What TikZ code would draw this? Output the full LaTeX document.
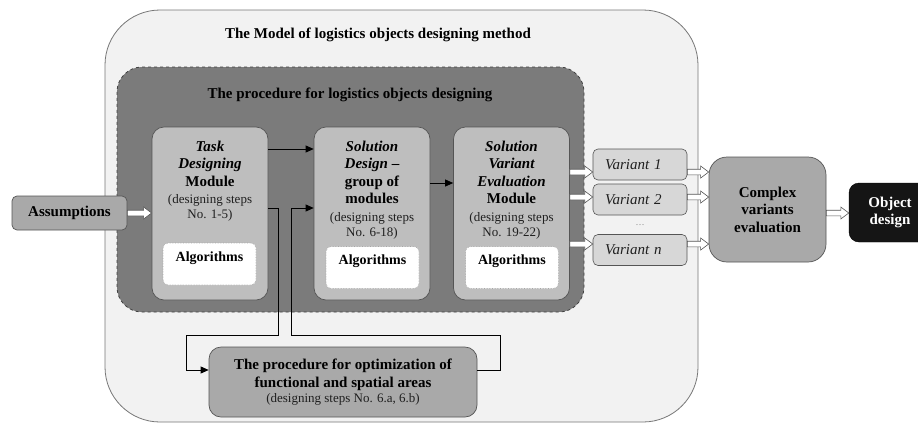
\documentclass[tikz,border=0pt]{standalone}
\usepackage{fontspec}
\setmainfont{Liberation Serif}
\usetikzlibrary{arrows.meta,calc}

\definecolor{outerfill}{HTML}{F2F2F2}
\definecolor{darkfill}{HTML}{7B7B7B}
\definecolor{modfill}{HTML}{BEBEBE}
\definecolor{midfill}{HTML}{A9A9A9}
\definecolor{varfill}{HTML}{D7D7D7}
\definecolor{objfill}{HTML}{151515}
\definecolor{edge}{HTML}{555555}
\definecolor{softedge}{HTML}{777777}

\newcommand\bfont{\fontsize{15}{17.5}\selectfont\bfseries}
\newcommand\rfont{\fontsize{13}{15}\selectfont\mdseries\color{black!88}}

% white block arrow with a grey outline between two points on the same level
\newcommand\hollowarrow[2]{%
  \draw[hollow] let \p1=(#1), \p2=(#2) in
    (\x1,\y1+2.8pt) -- (\x2-8pt,\y1+2.8pt) -- (\x2-8pt,\y1+6pt) -- (\x2,\y1)
    -- (\x2-8pt,\y1-6pt) -- (\x2-8pt,\y1-2.8pt) -- (\x1,\y1-2.8pt) -- cycle;}

\tikzset{
  outerbox/.style={draw=softedge, fill=outerfill, line width=0.8pt, rounded corners=55pt},
  procbox/.style={draw=black!75, fill=darkfill, dashed, line width=0.8pt, rounded corners=25pt},
  modbox/.style={draw=edge, fill=modfill, line width=0.7pt, rounded corners=12pt,
    minimum width=116pt, minimum height=173pt, inner sep=0pt},
  modtext/.style={font=\bfont, align=center, inner sep=0pt, anchor=north},
  algbox/.style={draw=gray!70, densely dotted, fill=white, line width=0.6pt, rounded corners=5pt,
    minimum width=93pt, minimum height=42pt, inner sep=0pt},
  algtext/.style={font=\fontsize{14}{16}\selectfont\bfseries, inner sep=0pt},
  greybox/.style={draw=edge, fill=midfill, line width=0.7pt, font=\bfont, align=center, inner sep=0pt},
  varbox/.style={draw=edge, fill=varfill, line width=0.6pt, rounded corners=5pt,
    minimum height=31pt, text width=70pt, inner xsep=12pt, inner ysep=0pt, align=left,
    font=\fontsize{15}{17}\selectfont\itshape\color{black!88}},
  title/.style={font=\bfont, inner sep=0pt},
  conn/.style={draw=black, line width=0.8pt, -{Triangle[length=8pt,width=7pt]}},
  hollow/.style={draw=edge, fill=white, line width=0.6pt, line join=miter},
}

\begin{document}
\begin{tikzpicture}[x=1pt,y=-1pt]
\clip (0,0) rectangle (918,424);
\fill[white] (0,0) rectangle (918,424);

% method frame and procedure frame
\node[outerbox, minimum width=593pt, minimum height=412pt] (model) at (401.5,216) {};
\node[title] (modeltitle) at (378,35) {The Model of logistics objects designing method};
\node[procbox, minimum width=467pt, minimum height=245pt] (procframe) at (350.5,189.5) {};
\node[title] (proctitle) at (350,95) {The procedure for logistics objects designing};

% the three modules
\node[modbox] (task) at (210,213.5) {};
\node[modbox] (sol) at (372,213.5) {};
\node[modbox] (eval) at (511.5,213.5) {};

\node[modtext] (tasktext) at ($(task.north)+(0,14)$)
  {{\itshape Task}\\ {\itshape Designing}\\ Module\\ {\rfont (designing steps}\\[-2.5pt] {\rfont No. 1-5)}};
\node[modtext] (soltext) at ($(sol.north)+(0,14)$)
  {{\itshape Solution}\\ {\itshape Design} --\\ group of\\ modules\\ {\rfont (designing steps}\\[-2.5pt] {\rfont No. 6-18)}};
\node[modtext] (evaltext) at ($(eval.north)+(0,14)$)
  {{\itshape Solution}\\ {\itshape Variant}\\ {\itshape Evaluation}\\ Module\\ {\rfont (designing steps}\\[-2.5pt] {\rfont No. 19-22)}};

\node[algbox] (alg1) at (209.5,264) {};
\node[algbox] (alg2) at (372.5,267.5) {};
\node[algbox] (alg3) at (512,267.5) {};
\node[algtext] at ($(alg1.north)+(0,15)$) {Algorithms};
\node[algtext] at ($(alg2.north)+(0,15)$) {Algorithms};
\node[algtext] at ($(alg3.north)+(0,15)$) {Algorithms};

% inputs and outputs
\node[greybox, rounded corners=5pt, minimum width=115pt, minimum height=34pt] (assum) at (69.5,213) {Assumptions};
\node[greybox, rounded corners=12pt, minimum width=268pt, minimum height=70pt] (opt) at (343,382)
  {The procedure for optimization of\\ functional and spatial areas\\[-2.5pt] {\rfont (designing steps No. 6.a, 6.b)}};

\node[varbox] (v1) at (640,164.5) {Variant 1};
\node[varbox] (v2) at (640,199.5) {Variant 2};
\node[varbox] (vn) at (640,250) {Variant \textit{n}};
\node[font=\fontsize{9}{10}\selectfont, text=gray, inner sep=0pt] (vdots) at (640,225) {\dots};

\node[greybox, rounded corners=18pt, minimum width=117pt, minimum height=105pt] (complex) at (767.5,209.5)
  {\rule{0pt}{4pt}Complex\\ variants\\ evaluation};
\node[draw=black, fill=objfill, rounded corners=10pt, minimum width=82pt, minimum height=59pt,
  font=\bfont, text=white, align=center, inner sep=0pt] (obj) at (890,212.5) {Object\\ design};

% connectors between the modules
\draw[conn] (task.east |- 0,149) -- (sol.west |- 0,149);
\draw[conn] (sol.east |- 0,183) -- (eval.west |- 0,183);
\draw[conn] (task.east |- 0,208) -| (278,335) -| (186,370) -- (opt.west |- 0,370);
\draw[conn] (opt.east |- 0,370) -| (500,335) -| (291,208) -- (sol.west |- 0,208);

% block arrows
\hollowarrow{assum.east}{task.west |- assum.east}
\hollowarrow{eval.east |- 0,172}{v1.west |- 0,172}
\hollowarrow{eval.east |- 0,197}{v2.west |- 0,197}
\hollowarrow{eval.east |- 0,244}{vn.west |- 0,244}
\hollowarrow{v1.east |- 0,172}{complex.west |- 0,172}
\hollowarrow{v2.east |- 0,197}{complex.west |- 0,197}
\hollowarrow{vn.east |- 0,244}{complex.west |- 0,244}
\hollowarrow{complex.east |- 0,213}{obj.west |- 0,213}
\end{tikzpicture}
\end{document}
